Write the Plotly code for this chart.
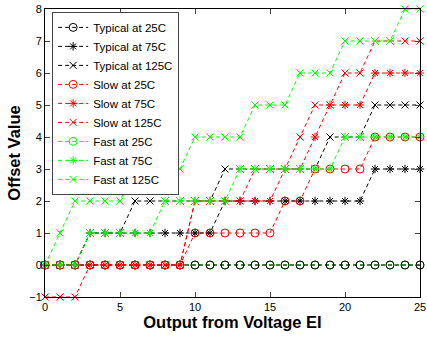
import plotly.graph_objects as go

x_vals = list(range(26))

typical_25 = [0] * 26
typical_75 = [0, 0, 0, 1, 1, 1, 1, 1, 1, 1, 1, 1, 2, 2, 2, 2, 2, 2, 2, 2, 2, 2, 3, 3, 3, 3]
typical_125 = [0, 0, 0, 1, 1, 1, 2, 2, 2, 2, 2, 2, 3, 3, 3, 3, 3, 3, 3, 4, 4, 4, 5, 5, 5, 5]
slow_25 = [0] * 10 + [1] * 6 + [2] * 2 + [3] * 4 + [4] * 4
slow_75 = [0] * 10 + [2] * 6 + [3] * 2 + [4] + [5] * 3 + [6] * 4
slow_125 = [-1] * 3 + [0] * 7 + [2] * 4 + [3] * 3 + [4] + [5] * 2 + [6] * 2 + [7] * 4
fast_25 = [0] * 26
fast_75 = [0, 0, 0, 1, 1, 1, 1, 1, 2, 2, 2, 2, 2, 3, 3, 3, 3, 3, 3, 3, 4, 4, 4, 4, 4, 4]
fast_125 = [0, 1, 2, 2, 2, 2, 3, 3, 3, 3, 4, 4, 4, 4, 5, 5, 5, 6, 6, 6, 7, 7, 7, 7, 8, 8]

# (legend name, values, colour, marker, legend position)
series = [
    ("Typical at 25C", typical_25, "#000000", "circle-open", 1),
    ("Typical at 75C", typical_75, "#000000", "asterisk-open", 2),
    ("Typical at 125C", typical_125, "#000000", "x-thin-open", 3),
    ("Slow at 25C", slow_25, "#ff0000", "circle-open", 4),
    ("Slow at 75C", slow_75, "#ff0000", "asterisk-open", 5),
    ("Slow at 125C", slow_125, "#ff0000", "x-thin-open", 6),
    ("Fast at 25C", fast_25, "#00ff00", "circle-open", 7),
    ("Fast at 75C", fast_75, "#00ff00", "asterisk-open", 8),
    ("Fast at 125C", fast_125, "#00ff00", "x-thin-open", 9),
]
# drawing order (bottom to top)
draw_order = [6, 0, 3, 1, 2, 4, 5, 7, 8]

x_ticks = [0, 5, 10, 15, 20, 25]
y_ticks = [-1, 0, 1, 2, 3, 4, 5, 6, 7, 8]

fig = go.Figure()
for idx in draw_order:
    name, ys, color, sym, rank = series[idx]
    size = 8 if sym == "circle-open" else 7
    fig.add_trace(go.Scatter(
        x=x_vals, y=ys, name=name, mode="lines+markers", legendrank=rank,
        line=dict(color=color, width=1, dash="4px,3px"),
        marker=dict(symbol=sym, size=size, color=color, line=dict(color=color, width=1)),
        cliponaxis=False,
    ))

font_family = "Liberation Sans, Arial, sans-serif"
fig.update_layout(
    width=427, height=340,
    margin=dict(l=45, r=7, t=9, b=43, autoexpand=False),
    paper_bgcolor="white", plot_bgcolor="white",
    font=dict(family=font_family, size=11, color="black"),
    showlegend=True,
    legend=dict(
        x=0.019, y=0.99, xanchor="left", yanchor="top",
        bgcolor="white", bordercolor="#444444", borderwidth=1,
        font=dict(size=11.5, family=font_family, color="black"),
        tracegroupgap=0, itemwidth=30, traceorder="normal",
    ),
    xaxis=dict(
        range=[0, 25], tickvals=x_ticks, ticks="inside", ticklen=5,
        showline=True, linecolor="black", linewidth=1, mirror="ticks",
        showgrid=False, zeroline=False, automargin=False,
        title=dict(text="<b>Output from Voltage EI</b>", font=dict(size=16.5, family=font_family), standoff=2),
        tickfont=dict(size=11),
    ),
    yaxis=dict(
        range=[-1, 8], tickvals=y_ticks, ticks="inside", ticklen=5,
        showline=True, linecolor="black", linewidth=1, mirror="ticks",
        showgrid=False, zeroline=False, automargin=False,
        title=dict(text="<b>Offset Value</b>", font=dict(size=16.5, family=font_family), standoff=4),
        tickfont=dict(size=11),
    ),
)

fig.write_html(
    "out.html",
    config={"displayModeBar": False},
    post_script="document.body.style.margin='0';document.body.style.overflow='hidden';",
)
